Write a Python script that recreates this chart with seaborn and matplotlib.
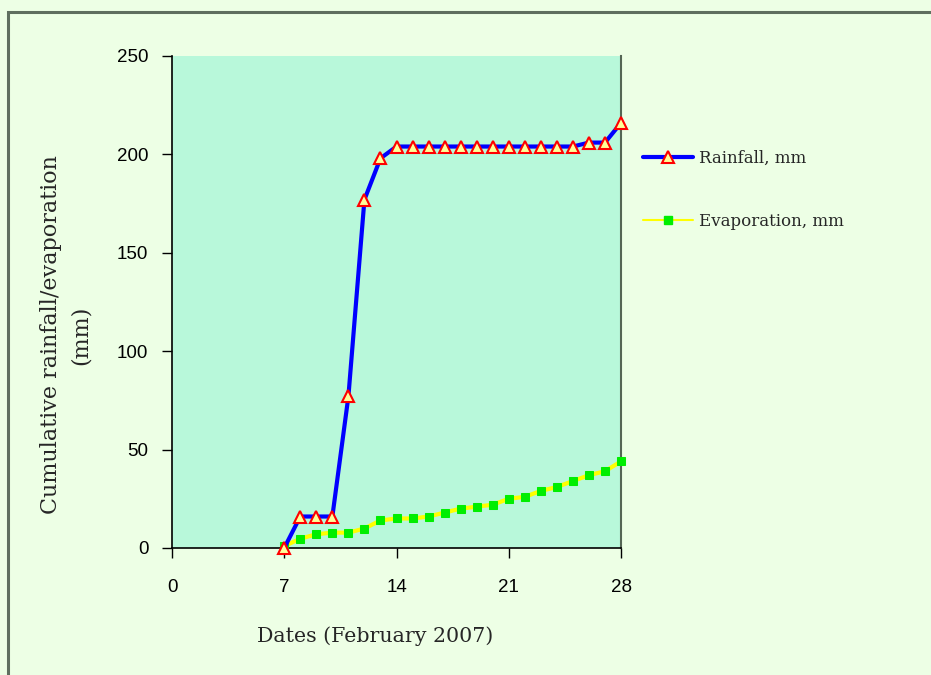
import matplotlib
matplotlib.use("Agg")
import matplotlib.pyplot as plt
import seaborn as sns
import pandas as pd
from matplotlib.lines import Line2D
from matplotlib.patches import Rectangle

days = list(range(7, 29))
rainfall = [0, 16, 16, 16, 77, 177, 198, 204, 204, 204, 204, 204, 204, 204, 204, 204,
            204, 204, 204, 206, 206, 216]
evaporation = [1, 4.7, 7, 7.8, 7.8, 9.9, 14, 15, 15, 16, 18, 20, 21, 22, 25, 26,
               29, 31, 34, 37, 39, 44]
x_ticks = [0, 7, 14, 21, 28]
y_ticks = [0, 50, 100, 150, 200, 250]
series_names = ["Rainfall, mm", "Evaporation, mm"]

df = pd.DataFrame({"day": days, "rain": rainfall, "evap": evaporation})

sns.set_style("white")
W, H = 931, 675
fig = plt.figure(figsize=(W / 100, H / 100), dpi=100)
fig.patch.set_facecolor("#EDFFE5")
fig.patches.append(Rectangle((8 / W, -0.1), 1.2, (H - 12) / H + 0.1, transform=fig.transFigure,
                             fill=False, edgecolor="#5F6F5F", linewidth=2.2))

ax = fig.add_axes([172 / W, 1 - 548 / H, (621 - 172) / W, (548 - 56) / H])
ax.set_facecolor("#B8F8DA")

sns.lineplot(data=df, x="day", y="evap", ax=ax, color="#FFFF00", linewidth=3,
             marker="s", markersize=6, markerfacecolor="#00EE00", markeredgecolor="#00EE00",
             clip_on=False, zorder=3)
sns.lineplot(data=df, x="day", y="rain", ax=ax, color="#0000FF", linewidth=3,
             marker="^", markersize=8.5, markerfacecolor="#FFFF99", markeredgecolor="#FF0000",
             markeredgewidth=1.5, clip_on=False, zorder=4)

ax.set_xlim(0, 28)
ax.set_ylim(0, 250)
ax.set_xticks(x_ticks)
ax.set_yticks(y_ticks)
ax.tick_params(axis="both", direction="out", length=7, width=1, colors="black",
               labelsize=13.5, bottom=True, left=True)
ax.tick_params(axis="x", pad=15)
ax.tick_params(axis="y", pad=10)
for lab in ax.get_xticklabels() + ax.get_yticklabels():
    lab.set_fontfamily("Liberation Sans")

for s in ["left", "bottom"]:
    ax.spines[s].set_color("black")
    ax.spines[s].set_linewidth(1.2)
ax.spines["top"].set_visible(False)
ax.spines["right"].set_color("#556655")
ax.spines["right"].set_linewidth(1.5)

ax.set_xlabel("Dates (February 2007)", fontfamily="DejaVu Serif", fontsize=14.8, va="center")
ax.xaxis.set_label_coords((375 - 172) / 449, (548 - 636) / 492)
ax.set_ylabel("Cumulative rainfall/evaporation\n(mm)", fontfamily="DejaVu Serif",
              fontsize=16, linespacing=1.45, va="center")
ax.yaxis.set_label_coords((66 - 172) / 449, (548 - 335) / 492)

handles = [
    Line2D([], [], color="#0000FF", linewidth=3, marker="^", markersize=8.5,
           markerfacecolor="#FFFF99", markeredgecolor="#FF0000", markeredgewidth=1.5),
    Line2D([], [], color="#FFFF00", linewidth=1.5, marker="s", markersize=6,
           markerfacecolor="#00EE00", markeredgecolor="#00EE00"),
]
leg = fig.legend(handles, series_names, loc="upper left", bbox_to_anchor=(628 / W, 1 - 135 / H),
                 frameon=False, prop={"family": "DejaVu Serif", "size": 12},
                 handlelength=3.0, handletextpad=0.35, labelspacing=2.75)

fig.savefig("out.png", dpi=100, facecolor=fig.get_facecolor())
